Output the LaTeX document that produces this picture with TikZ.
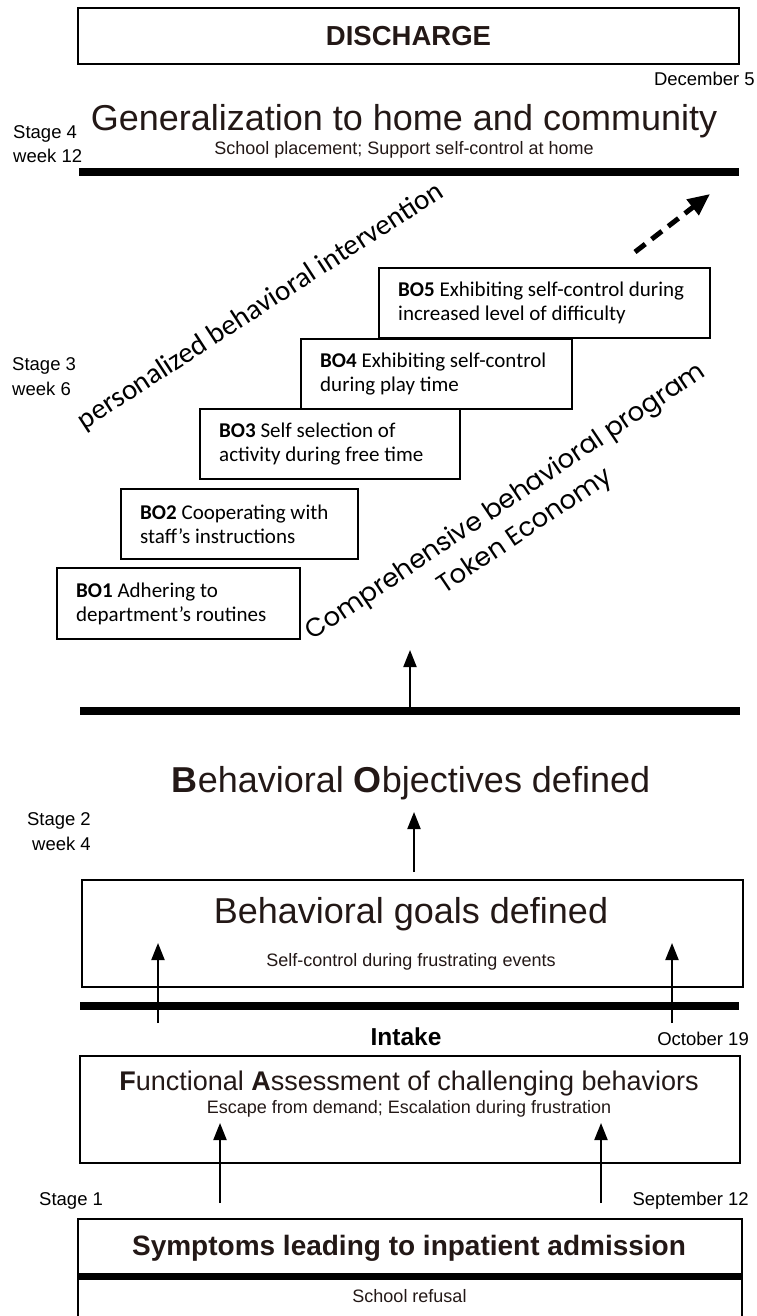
\documentclass[tikz,border=0pt]{standalone}
\usepackage{fontspec}
\setmainfont{Liberation Sans}
\newfontfamily\calib{Carlito}
\newfontfamily\geo{Poppins}
\usetikzlibrary{arrows.meta}
\definecolor{ink}{HTML}{231816}
\tikzset{
  lab/.style={font=\fontsize{18.5}{24.5}\selectfont, inner sep=0pt, text=black},
  big/.style={font=\fontsize{36}{40}\selectfont, inner sep=0pt, text=ink, anchor=base},
  sub/.style={font=\fontsize{18}{22}\selectfont, inner sep=0pt, text=ink, anchor=base},
  frame/.style={draw=black, line width=2pt, inner sep=0pt},
  bar/.style={line width=8pt},
  up/.style={line width=2pt, -{Triangle[length=17pt,width=13pt]}},
  bobox/.style={draw=black, line width=2pt, inner sep=0pt},
  botext/.style={anchor=west, inner sep=0pt, align=left, font=\calib\fontsize{21}{24}\selectfont, text=black},
  slant/.style={anchor=base, inner sep=0pt, text=black},
}
\begin{document}
\begin{tikzpicture}[x=1pt,y=-1pt]
\useasboundingbox (0,0) rectangle (756,1316);
% ---- top
\node[frame, minimum width=661pt, minimum height=56pt, text=ink,
      font=\bfseries\fontsize{27.5}{30}\selectfont] (dis) at (408.5,36) {DISCHARGE};
\node[lab, anchor=base east] (dec) at (755,86) {December 5};
\node[lab, anchor=base west, align=left] (st4) at (13,163) {Stage 4\\week 12};
\node[big] (gen) at (404,131) {Generalization to home and community};
\node[sub] (gensub) at (404,155) {School placement; Support self-control at home};
\coordinate (b4l) at (79,172);
\coordinate (b4r) at (739,172);
\draw[bar] (b4l) -- (b4r);
% ---- stage 3
\node[lab, anchor=base west, align=left] (st3) at (12,395) {Stage 3\\week 6};
\node[slant, font=\calib\fontsize{29}{31}\selectfont, rotate=33] (pbi) at (265,313) {personalized behavioral intervention};
\coordinate (ds) at (635,252);
\coordinate (de) at (710,194);
\draw[line width=5pt, dash pattern=on 13pt off 8pt, -{Triangle[length=22pt,width=19pt]}] (ds) -- (de);
% BO boxes
\node[bobox, anchor=north west, minimum width=331pt, minimum height=70pt] (bo5) at (378,267) {};
\node[botext] (bo5t) at ([xshift=20pt]bo5.west) {\textbf{BO5} Exhibiting self-control during\\increased level of difficulty};
\node[bobox, anchor=north west, minimum width=271pt, minimum height=70pt] (bo4) at (300,338) {};
\node[botext] (bo4t) at ([xshift=20pt]bo4.west) {\textbf{BO4} Exhibiting self-control\\during play time};
\node[bobox, anchor=north west, minimum width=260pt, minimum height=70pt] (bo3) at (199,408) {};
\node[botext] (bo3t) at ([xshift=20pt]bo3.west) {\textbf{BO3} Self selection of\\activity during free time};
\node[bobox, anchor=north west, minimum width=237pt, minimum height=70pt] (bo2) at (120,488) {};
\node[botext] (bo2t) at ([xshift=20pt]bo2.west) {\textbf{BO2} Cooperating with\\staff’s instructions};
\node[bobox, anchor=north west, minimum width=243pt, minimum height=71pt] (bo1) at (56,567) {};
\node[botext] (bo1t) at ([xshift=20pt]bo1.west) {\textbf{BO1} Adhering to\\department’s routines};
\node[slant, font=\geo\fontsize{26}{30}\selectfont, rotate=34] (cbp) at (510,508) {Comprehensive behavioral program};
\node[slant, font=\geo\fontsize{26}{30}\selectfont, rotate=34] (tok) at (529,537) {Token Economy};
\coordinate (b3l) at (80,711);
\coordinate (b3r) at (740,711);
\draw[bar] (b3l) -- (b3r);
\coordinate (a3s) at (410,707);
\coordinate (a3e) at (410,650);
\draw[up] (a3s) -- (a3e);
% ---- stage 2
\node[big] (bod) at (411,792) {\textbf{B}ehavioral \textbf{O}bjectives defined};
\node[lab, anchor=base east, align=right] (st2) at (91,850) {Stage 2\\week 4};
\node[frame, anchor=north west, minimum width=661pt, minimum height=107pt] (bgdbox) at (81,879) {};
\coordinate (a2s) at (414,872);
\coordinate (a2e) at (414,812);
\draw[up] (a2s) -- (a2e);
\node[big] (bgd) at (411,923) {Behavioral goals defined};
\node[sub] (bgdsub) at (411,966) {Self-control during frustrating events};
\coordinate (b2l) at (80,1006);
\coordinate (b2r) at (739,1006);
\draw[bar] (b2l) -- (b2r);
\coordinate (a21s) at (158,1023);
\coordinate (a21e) at (158,943);
\coordinate (a22s) at (672,1023);
\coordinate (a22e) at (672,943);
\draw[up] (a21s) -- (a21e);
\draw[up] (a22s) -- (a22e);
\node[font=\bfseries\fontsize{24.5}{28}\selectfont, anchor=base, inner sep=0pt, text=black] (intake) at (406,1045) {Intake};
\node[lab, anchor=base east] (oct) at (749,1045) {October 19};
% ---- stage 1
\node[frame, anchor=north west, minimum width=660pt, minimum height=107pt] (fabox) at (79,1055) {};
\node[font=\fontsize{27}{30}\selectfont, anchor=base, inner sep=0pt, text=ink] (fa) at (409,1090) {\textbf{F}unctional \textbf{A}ssessment of challenging behaviors};
\node[sub] (fasub) at (409,1113) {Escape from demand; Escalation during frustration};
\coordinate (a11s) at (220,1203);
\coordinate (a11e) at (220,1123);
\coordinate (a12s) at (601,1203);
\coordinate (a12e) at (601,1123);
\draw[up] (a11s) -- (a11e);
\draw[up] (a12s) -- (a12e);
\node[lab, anchor=base west] (st1) at (39,1205) {Stage 1};
\node[lab, anchor=base east] (sep) at (749,1205) {September 12};
\coordinate (s1) at (78,1317);
\coordinate (s2) at (78,1219);
\coordinate (s3) at (742,1219);
\coordinate (s4) at (742,1317);
\draw[line width=2pt] (s1) -- (s2) -- (s3) -- (s4);
\node[font=\bfseries\fontsize{28}{30}\selectfont, anchor=base, inner sep=0pt, text=ink] (sym) at (409,1255) {Symptoms leading to inpatient admission};
\coordinate (b1l) at (78,1276);
\coordinate (b1r) at (742,1276);
\draw[line width=7pt] (b1l) -- (b1r);
\node[sub] (sch) at (409.5,1302) {School refusal};
\end{tikzpicture}
\end{document}
